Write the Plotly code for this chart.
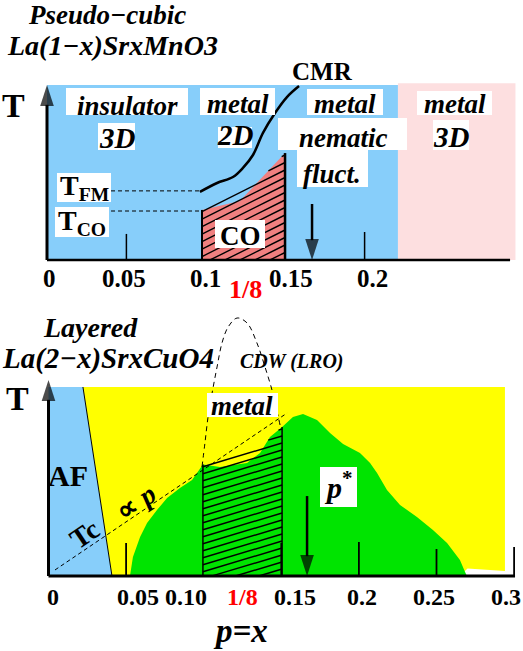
import numpy as np
import plotly.graph_objects as go

W, H = 523, 651
SERIF = "Liberation Serif, Times New Roman, serif"

# ---------------- top panel: pseudo-cubic La(1-x)SrxMnO3 ----------------
top_ticks = [0, 0.05, 0.1, 0.15, 0.2]
top_tick_labels = ["0", "0.05", "0.1", "0.15", "0.2"]
top_tick_marks = [0.05, 0.2]
top_tick_heights = [0.149, 0.16]
top_blue_x = [0.0, 0.221]
top_pink_x = [0.221, 0.295]
top_T_max = 1.0
top_axis_end = 0.2916
cmr_x = [0.0963, 0.1071, 0.1171, 0.1234, 0.1297, 0.1360, 0.1436, 0.1511, 0.1587]
cmr_T = [0.389, 0.440, 0.474, 0.526, 0.600, 0.726, 0.840, 0.931, 0.994]
co_x = [0.0976, 0.0976, 0.1215, 0.1499, 0.1499]
co_T = [0.0, 0.286, 0.337, 0.611, 0.0]
T_FM, T_FM_x = 0.395, [0.0403, 0.0963]
T_CO, T_CO_x = 0.28, [0.0315, 0.0963]
top_pstar_x, top_pstar_T = 0.1669, 0.32

# ---------------- bottom panel: layered La(2-x)SrxCuO4 ----------------
bot_ticks = [0, 0.05, 0.10, 0.15, 0.2, 0.25, 0.3]
bot_tick_labels = ["0", "0.05", "0.10", "0.15", "0.2", "0.25", "0.3"]
bot_tick_marks = [0.05, 0.15, 0.2, 0.25, 0.3]
bot_tick_heights = [0.175, 0.175, 0.18, 0.143, 0.153]
bot_T_max = 1.037
bot_axis_end = 0.3006
af_x = [0.0, 0.0222, 0.0409, 0.0]
af_T = [1.0, 1.0, 0.0, 0.0]
yellow_x = [0.0222, 0.2941, 0.2941, 0.2700, 0.2650, 0.0409]
yellow_T = [1.0, 1.0, 0.026, 0.04, 0.0, 0.0]
green_x = [0.0525, 0.0544, 0.0590, 0.0635, 0.0699, 0.0764, 0.0847, 0.0925, 0.0995,
           0.1105, 0.1279, 0.1363, 0.1427, 0.1505, 0.1575, 0.1640, 0.1730, 0.1814,
           0.1898, 0.2007, 0.2072, 0.2117, 0.2181, 0.2265, 0.2374, 0.2477, 0.2568,
           0.2651, 0.2684, 0.2696]
green_T = [0.0, 0.101, 0.206, 0.280, 0.349, 0.413, 0.466, 0.508, 0.590,
           0.577, 0.598, 0.651, 0.735, 0.788, 0.841, 0.857, 0.825, 0.757,
           0.698, 0.651, 0.598, 0.545, 0.455, 0.376, 0.312, 0.243, 0.175,
           0.085, 0.021, 0.0]
cdw_hatch_x = [0.0995, 0.0995, 0.1105, 0.1279, 0.1363, 0.1427, 0.1505, 0.1505]
cdw_hatch_T = [0.0, 0.590, 0.577, 0.598, 0.651, 0.735, 0.788, 0.0]
tc_x = [0.0042, 0.1537]
tc_T = [0.032, 0.862]
dome_x = [0.0989, 0.1008, 0.1028, 0.1054, 0.1086, 0.1118, 0.1157, 0.1215, 0.1279,
          0.1343, 0.1395, 0.1440, 0.1466, 0.1492]
dome_T = [0.577, 0.704, 0.841, 0.968, 1.106, 1.233, 1.317, 1.365, 1.339,
          1.233, 1.106, 0.984, 0.894, 0.799]
bot_pstar_x, bot_pstar_T = 0.1666, 0.423

BLUE = "rgb(135,206,250)"
PINK = "rgb(253,223,224)"
SALMON = "rgb(240,128,128)"
YELLOW = "rgb(255,255,0)"
GREEN = "rgb(0,228,0)"

# pixel calibration of the two panels (x: px = x0 + kx*x ; y: py = y0 - ky*T)
TOP_CAL = (47.0, 1588.0, 260.0, 175.0)
BOT_CAL = (48.5, 1552.0, 576.0, 189.0)

fig = go.Figure()

def poly(x, y, color, xa, ya):
    fig.add_trace(go.Scatter(x=list(x) + [x[0]], y=list(y) + [y[0]], fill="toself", fillcolor=color,
                             mode="lines", line=dict(width=0, color=color),
                             xaxis=xa, yaxis=ya, hoverinfo="skip"))

def line(x, y, xa, ya, width=2, dash="solid", shape="linear"):
    fig.add_trace(go.Scatter(x=x, y=y, mode="lines",
                             line=dict(color="black", width=width, dash=dash, shape=shape),
                             xaxis=xa, yaxis=ya, hoverinfo="skip"))

def arrow(x, t_tail, t_head, xa, ya, width=2.5, head=22):
    fig.add_trace(go.Scatter(x=[x, x], y=[t_tail, t_head], mode="lines+markers",
                             line=dict(color="black", width=width),
                             marker=dict(symbol="arrow", size=[0, head], angleref="previous",
                                         color="black", line=dict(width=0)),
                             xaxis=xa, yaxis=ya, hoverinfo="skip"))

def hatch(px_, pT, cal, xa, ya, spacing=7.0, slope=0.45, width=1.2):
    """Parallel rising hatch lines clipped to a region with flat bottom (T=0),
    vertical sides and a polyline top, drawn in pixel space."""
    x0, kx, y0, ky = cal
    top_x = np.array(px_[1:-1]); top_T = np.array(pT[1:-1])
    xs = np.linspace(px_[0], px_[-1], 400)
    top = np.interp(xs, top_x, top_T)
    xpx = x0 + kx * xs
    h_top = ky * top
    hx, hy = [], []
    d = xpx - xpx[0]
    c = -slope * (xpx[-1] - xpx[0])
    while c < h_top.max():
        h = c + slope * d
        ok = (h >= 0) & (h <= h_top)
        if ok.any():
            i = np.where(ok)[0]
            hx += [xs[i[0]], xs[i[-1]], None]
            hy += [h[i[0]] / ky, h[i[-1]] / ky, None]
        c += spacing
    fig.add_trace(go.Scatter(x=hx, y=hy, mode="lines", line=dict(color="black", width=width),
                             xaxis=xa, yaxis=ya, hoverinfo="skip"))

# --- top panel traces ---
poly([top_blue_x[0], top_blue_x[1], top_blue_x[1], top_blue_x[0]], [0, 0, top_T_max, top_T_max], BLUE, "x", "y")
poly([top_pink_x[0], top_pink_x[1], top_pink_x[1], top_pink_x[0]], [0, 0, top_T_max * 1.01, top_T_max * 1.01], PINK, "x", "y")
poly(co_x, co_T, SALMON, "x", "y")
hatch(co_x, co_T, TOP_CAL, "x", "y", spacing=7.5, slope=0.5, width=1.4)
line([co_x[0], co_x[1]], [co_T[0], co_T[1]], "x", "y", width=2)
line([co_x[-2], co_x[-1]], [co_T[-2], co_T[-1]], "x", "y", width=2.5)
line(cmr_x, cmr_T, "x", "y", width=2.5, shape="spline")
line(T_FM_x, [T_FM, T_FM], "x", "y", width=1, dash="4px,3px")
line(T_CO_x, [T_CO, T_CO], "x", "y", width=1, dash="4px,3px")
for tx, th in zip(top_tick_marks, top_tick_heights):
    line([tx, tx], [0, th], "x", "y", width=1.5)
line([0, top_axis_end], [0, 0], "x", "y", width=2.5)
arrow(0, 0, top_T_max, "x", "y", width=3)
arrow(top_pstar_x, top_pstar_T, 0, "x", "y", width=2.5)

# --- bottom panel traces ---
poly(yellow_x, yellow_T, YELLOW, "x2", "y2")
poly(af_x, af_T, BLUE, "x2", "y2")
line(af_x[1:3], af_T[1:3], "x2", "y2", width=1)
poly(green_x, green_T, GREEN, "x2", "y2")
hatch(cdw_hatch_x, cdw_hatch_T, BOT_CAL, "x2", "y2", spacing=7.0, slope=0.3, width=1.4)
line(cdw_hatch_x[:2], cdw_hatch_T[:2], "x2", "y2", width=1.5)
line(cdw_hatch_x[-2:], cdw_hatch_T[-2:], "x2", "y2", width=1.5)
line(tc_x, tc_T, "x2", "y2", width=1, dash="4px,3px")
line(dome_x, dome_T, "x2", "y2", width=1, dash="5px,4px", shape="spline")
for tx, th in zip(bot_tick_marks, bot_tick_heights):
    line([tx, tx], [0, th], "x2", "y2", width=1.8)
line([0, bot_axis_end], [0, 0], "x2", "y2", width=3)
arrow(0, 0, bot_T_max, "x2", "y2", width=3)
arrow(bot_pstar_x, bot_pstar_T, 0, "x2", "y2", width=2.5)

# --- axes: pixel-calibrated ranges, both subplots span the full figure ---
ax_common = dict(visible=False, showgrid=False, zeroline=False, fixedrange=True)
fig.update_layout(
    width=W, height=H, margin=dict(l=0, r=0, t=0, b=0),
    paper_bgcolor="white", plot_bgcolor="rgba(0,0,0,0)", showlegend=False,
    xaxis=dict(domain=[0, 1], range=[-47 / 1588, 476 / 1588], anchor="y", **ax_common),
    yaxis=dict(domain=[0, 1], range=[(260 - 651) / 175, 260 / 175], anchor="x", **ax_common),
    xaxis2=dict(domain=[0, 1], range=[-48.5 / 1552, 474.5 / 1552], anchor="y2", **ax_common),
    yaxis2=dict(domain=[0, 1], range=[(576 - 651) / 189, 576 / 189], anchor="x2", **ax_common),
)

def px2paper(px, py):
    return px / W, 1 - py / H

shapes = []
def box(x0, x1, y0, y1):
    shapes.append(dict(type="rect", xref="paper", yref="paper", layer="above",
                       x0=x0 / W, x1=x1 / W, y0=1 - y1 / H, y1=1 - y0 / H,
                       fillcolor="white", line=dict(width=0)))

annots = []
def txt(text, cx, base, size, bold=True, italic=False, color="black", angle=0):
    t = text
    if bold:
        t = "<b>" + t + "</b>"
    if italic:
        t = "<i>" + t + "</i>"
    x, y = px2paper(cx, base - 0.34 * size)
    annots.append(dict(text=t, x=x, y=y, xref="paper", yref="paper", showarrow=False,
                       xanchor="center", yanchor="middle", textangle=angle,
                       font=dict(family=SERIF, size=size, color=color)))

# top panel text
txt("Pseudo−cubic", 107, 24.5, 27, italic=True)
txt("La(1−x)SrxMnO3", 112, 55, 28, italic=True)
txt("T", 13, 117, 34)
box(66, 188, 88, 115); txt("insulator", 127, 115, 27, italic=True)
box(98, 135, 123, 150); txt("3D", 117, 148, 29, italic=True)
box(200, 275, 88, 115); txt("metal", 238, 113, 27, italic=True)
box(218, 252, 127, 148); txt("2D", 235, 145, 29, italic=True)
box(307, 383, 89, 115); txt("metal", 345, 113, 27, italic=True)
box(278, 407, 118, 150); txt("nematic", 343, 147, 27, italic=True)
box(297, 368, 150, 187); txt("fluct.", 332, 183, 27, italic=True)
box(417, 492, 91, 115); txt("metal", 455, 113, 27, italic=True)
box(433, 469, 120, 150); txt("3D", 451, 147, 29, italic=True)
txt("CMR", 322, 80, 25)
box(57, 111, 173, 202); txt("T<sub>FM</sub>", 84, 197, 28)
box(55, 109, 207, 237); txt("T<sub>CO</sub>", 82, 232, 28)
box(215, 265, 220, 248); txt("CO", 240, 245, 27)
top_label_shift = [2, -2, 0, 6, 8]
for v, lab, s in zip(top_ticks, top_tick_labels, top_label_shift):
    annots.append(dict(text="<b>" + lab + "</b>", x=v, y=1 - (287 - 0.34 * 25) / H, xref="x", yref="paper",
                       xshift=s, showarrow=False, xanchor="center", yanchor="middle",
                       font=dict(family=SERIF, size=25, color="black")))
annots.append(dict(text="<b>1/8</b>", x=0.125, y=1 - (298 - 0.34 * 26) / H, xref="x", yref="paper",
                   showarrow=False, xanchor="center", yanchor="middle",
                   font=dict(family=SERIF, size=26, color="red")))

# bottom panel text
txt("Layered", 90, 337, 28, italic=True)
txt("La(2−x)SrxCuO4", 108, 368, 29, italic=True)
txt("CDW (LRO)", 292, 368, 20, italic=True)
txt("T", 17, 410, 34)
box(207, 278, 393, 417); txt("metal", 242, 415, 27, italic=True)
txt("AF", 68, 486, 30)
annots.append(dict(text="<b>Tc</b>", x=84 / W, y=1 - 534 / H, xref="paper", yref="paper",
                   xanchor="center", yanchor="middle",
                   showarrow=False, textangle=-34, font=dict(family=SERIF, size=28, color="black")))
annots.append(dict(text="<b>∝ <i>p</i></b>", x=136 / W, y=1 - 503 / H, xref="paper", yref="paper",
                   xanchor="center", yanchor="middle",
                   showarrow=False, textangle=-34, font=dict(family=SERIF, size=28, color="black")))
box(320, 357, 467, 507); txt("<i>p</i><sup>*</sup>", 338, 495, 30)
bot_label_shift = [4.5, 12, -18, 14, 3, -3, -8]
for v, lab, s in zip(bot_ticks, bot_tick_labels, bot_label_shift):
    annots.append(dict(text="<b>" + lab + "</b>", x=v, y=1 - (605 - 0.34 * 24) / H, xref="x2", yref="paper",
                       xshift=s, showarrow=False, xanchor="center", yanchor="middle",
                       font=dict(family=SERIF, size=24, color="black")))
annots.append(dict(text="<b>1/8</b>", x=0.125, y=1 - (605 - 0.34 * 24) / H, xref="x2", yref="paper",
                   showarrow=False, xanchor="center", yanchor="middle",
                   font=dict(family=SERIF, size=24, color="red")))
txt("p=x", 240, 642, 33, italic=True)

fig.update_layout(shapes=shapes, annotations=annots)
fig.write_html("out.html", config={"displayModeBar": False},
               post_script="document.body.style.margin='0';document.body.style.overflow='hidden';")
